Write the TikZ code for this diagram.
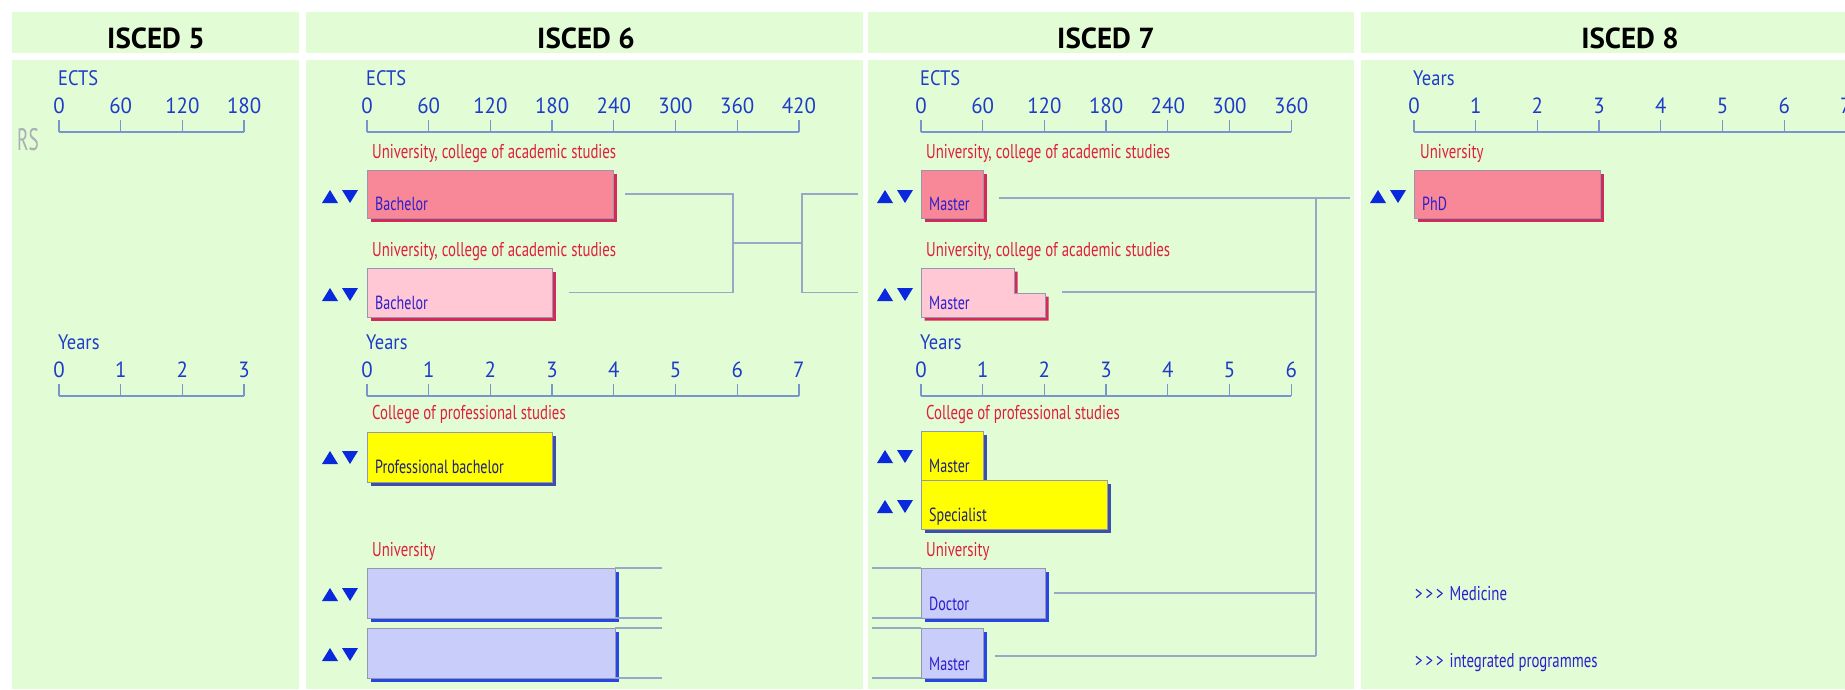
\documentclass[tikz,border=0pt]{standalone}
\usepackage{fontspec}
\setmainfont{PT Sans}
\newfontfamily\condf[FakeStretch=0.74]{PT Sans}
\newfontfamily\numf[FakeStretch=0.88]{PT Sans}
\newfontfamily\digf[FakeStretch=0.95]{PT Sans}
\newfontfamily\rsf[FakeStretch=0.62]{PT Sans}
\usetikzlibrary{calc,shadows}
\definecolor{panel}{RGB}{226,252,214}
\definecolor{axisc}{RGB}{120,150,205}
\definecolor{axtext}{RGB}{30,60,200}
\definecolor{redl}{RGB}{225,30,60}
\definecolor{boxt}{RGB}{45,30,205}
\definecolor{boxty}{RGB}{30,30,130}
\definecolor{pinkD}{RGB}{248,135,152}
\definecolor{pinkL}{RGB}{255,200,212}
\definecolor{pinkS}{RGB}{215,40,90}
\definecolor{yell}{RGB}{255,255,0}
\definecolor{yellS}{RGB}{60,80,170}
\definecolor{blueB}{RGB}{200,205,250}
\definecolor{blueS}{RGB}{40,70,230}
\definecolor{edgec}{RGB}{150,150,175}
\definecolor{conn}{RGB}{150,170,200}
\definecolor{tri}{RGB}{10,40,220}
\definecolor{rsg}{RGB}{170,175,180}
\tikzset{
  head/.style={font=\bfseries\fontsize{29}{31}\selectfont, text=black, inner sep=0pt},
  axline/.style={draw=axisc, line width=1.3pt},
  axlab/.style={font=\digf\fontsize{22}{23}\selectfont, text=axtext, inner sep=0pt},
  axtitle/.style={font=\numf\fontsize{21}{22}\selectfont, text=axtext, inner sep=0pt},
  inst/.style={font=\condf\fontsize{20}{21}\selectfont, text=redl, inner sep=0pt, anchor=base west},
  prog/.style={draw=edgec, line width=0.6pt, anchor=north west, inner sep=0pt, outer sep=0pt},
  pshadow/.style={drop shadow={shadow xshift=3.5pt, shadow yshift=-3.5pt, fill=#1, opacity=1}},
  progtext/.style={font=\condf\fontsize{19}{20}\selectfont, text=boxt, inner sep=0pt, anchor=base west},
  note/.style={font=\condf\fontsize{20}{21}\selectfont, text=boxt, inner sep=0pt, anchor=base west},
  connector/.style={draw=conn, line width=1.4pt},
}
\newcommand\myaxis[6]{%
  \draw[axline] (#2,#3) -- ({#2+#4*61.7},#3);
  \foreach \lab [count=\i from 0] in {#5} {
    \draw[axline] ({#2+\i*61.7},#3) -- ++(0,-12);
    \node[axlab, anchor=base] (#1-\i) at ({#2+\i*61.7},#3-19) {\lab};
  }
  \node[axtitle, anchor=base west] (#1-t) at (#2-1,#3-47) {#6};
}
\newcommand\updown[2]{%
  \fill[tri] (#1,#2+6) -- (#1+16,#2+6) -- (#1+8,#2-7) -- cycle;
  \fill[tri] (#1+20,#2-7) -- (#1+36,#2-7) -- (#1+28,#2+6) -- cycle;
}
\newcommand\chev{>\kern3pt>\kern3pt>\hspace{6pt}}
\begin{document}
\begin{tikzpicture}[x=1pt,y=-1pt]
\useasboundingbox (0,0) rectangle (1845,689);
\fill[white] (0,0) rectangle (1845,689);
% panels
\fill[panel] (12,12) rectangle (299,53);
\fill[panel] (12,60) rectangle (299,689);
\fill[panel] (306,12) rectangle (863,53);
\fill[panel] (306,60) rectangle (863,689);
\fill[panel] (868,12) rectangle (1354,53);
\fill[panel] (868,60) rectangle (1354,689);
\fill[panel] (1361,12) rectangle (1845,53);
\fill[panel] (1361,60) rectangle (1845,689);
% headers
\node[head] (h5) at (156,38) {ISCED 5};
\node[head] (h6) at (586,38) {ISCED 6};
\node[head] (h7) at (1106,38) {ISCED 7};
\node[head] (h8) at (1630,38) {ISCED 8};
\node[anchor=base west, font=\rsf\fontsize{31}{32}\selectfont, text=rsg, inner sep=0pt] (rs) at (17,150) {RS};
% axes
\myaxis{a5e}{59}{132}{3}{0,60,120,180}{ECTS}
\myaxis{a5y}{59}{396}{3}{0,1,2,3}{Years}
\myaxis{a6e}{367}{132}{7}{0,60,120,180,240,300,360,420}{ECTS}
\myaxis{a6y}{367}{396}{7}{0,1,2,3,4,5,6,7}{Years}
\myaxis{a7e}{921}{132}{6}{0,60,120,180,240,300,360}{ECTS}
\myaxis{a7y}{921}{396}{6}{0,1,2,3,4,5,6}{Years}
\myaxis{a8y}{1414}{132}{7}{0,1,2,3,4,5,6,7}{Years}
% institution labels
\node[inst] (i6a) at (372,158) {University, college of academic studies};
\node[inst] (i6b) at (372,256) {University, college of academic studies};
\node[inst] (i6c) at (372,419) {College of professional studies};
\node[inst] (i6d) at (372,556) {University};
\node[inst] (i7a) at (926,158) {University, college of academic studies};
\node[inst] (i7b) at (926,256) {University, college of academic studies};
\node[inst] (i7c) at (926,419) {College of professional studies};
\node[inst] (i7d) at (926,556) {University};
\node[inst] (i8a) at (1420,158) {University};
% boxes ISCED 6
\node[prog, fill=pinkD, pshadow=pinkS, minimum width=246pt, minimum height=48pt] (b6a) at (367,170) {};
\node[prog, fill=pinkL, pshadow=pinkS, minimum width=185pt, minimum height=49pt] (b6b) at (367,268) {};
\node[prog, fill=yell, pshadow=yellS, minimum width=185pt, minimum height=50pt] (b6c) at (367,432) {};
\node[prog, fill=blueB, pshadow=blueS, minimum width=248pt, minimum height=50pt] (b6d) at (367,568) {};
\node[prog, fill=blueB, pshadow=blueS, minimum width=248pt, minimum height=50pt] (b6e) at (367,628) {};
% boxes ISCED 7
\node[prog, fill=pinkD, pshadow=pinkS, minimum width=62pt, minimum height=48pt] (b7a) at (921,170) {};
\path[draw=edgec, line width=0.6pt, fill=pinkL, pshadow=pinkS] (921,268) -- (1014,268) -- (1014,293) -- (1045,293) -- (1045,317) -- (921,317) -- cycle;
\coordinate (b7bW) at (921,292.5);
\coordinate (b7bE) at (1045,292);
\coordinate (b7bSW) at (921,317);
\node[prog, fill=yell, pshadow=yellS, minimum width=62pt, minimum height=49pt] (b7c) at (921,431) {};
\node[prog, fill=yell, pshadow=yellS, minimum width=186pt, minimum height=49pt] (b7d) at (921,480) {};
\node[prog, fill=blueB, pshadow=blueS, minimum width=124pt, minimum height=50pt] (b7e) at (921,568) {};
\node[prog, fill=blueB, pshadow=blueS, minimum width=62pt, minimum height=50pt] (b7f) at (921,628) {};
% box ISCED 8
\node[prog, fill=pinkD, pshadow=pinkS, minimum width=186pt, minimum height=48pt] (b8a) at (1414,170) {};
% programme names
\node[progtext] (t6a) at ([xshift=8pt,yshift=8pt]b6a.south west) {Bachelor};
\node[progtext] (t6b) at ([xshift=8pt,yshift=8pt]b6b.south west) {Bachelor};
\node[progtext, text=boxty] (t6c) at ([xshift=8pt,yshift=9pt]b6c.south west) {Professional bachelor};
\node[progtext] (t7a) at ([xshift=8pt,yshift=8pt]b7a.south west) {Master};
\node[progtext] (t7b) at ([xshift=8pt,yshift=8pt]b7bSW) {Master};
\node[progtext, text=boxty] (t7c) at ([xshift=8pt,yshift=8pt]b7c.south west) {Master};
\node[progtext, text=boxty] (t7d) at ([xshift=8pt,yshift=8pt]b7d.south west) {Specialist};
\node[progtext] (t7e) at ([xshift=8pt,yshift=8pt]b7e.south west) {Doctor};
\node[progtext] (t7f) at ([xshift=8pt,yshift=8pt]b7f.south west) {Master};
\node[progtext] (t8a) at ([xshift=8pt,yshift=8pt]b8a.south west) {PhD};
\node[note] (med) at (1415,600) {\chev Medicine};
\node[note] (integ) at (1415,667) {\chev integrated programmes};
% up/down markers
\updown{322}{197}
\updown{322}{295}
\updown{322}{458}
\updown{322}{595}
\updown{322}{655}
\updown{877}{197}
\updown{877}{295}
\updown{877}{457}
\updown{877}{507}
\updown{1370}{197}
% connectors ISCED 6 -> ISCED 7
\coordinate (ja) at (733,0);
\coordinate (jd) at (802,0);
\coordinate (jm) at (0,243);
\draw[connector] ([xshift=12pt]b6a.east) -- (ja |- b6a.east) -- (ja |- b6b.east) -- ([xshift=17pt]b6b.east);
\draw[connector] (ja |- jm) -- (jd |- jm);
\draw[connector] ([xshift=-63pt]b7a.west) -- (jd |- b7a.west) -- (jd |- b7bW) -- ([xshift=-63pt]b7bW);
% connectors ISCED 7 -> ISCED 8
\coordinate (vtop) at (1316,198);
\coordinate (vbot) at (1316,656);
\coordinate (m7a) at ([xshift=16pt,yshift=-4pt]b7a.east);
\coordinate (p8a) at ([xshift=-64pt,yshift=-4pt]b8a.west);
\draw[connector] (m7a) -- (p8a);
\draw[connector] (vtop) -- (vbot);
\draw[connector] ([xshift=17pt]b7bE) -- (vtop |- b7bE);
\draw[connector] ([xshift=9pt]b7e.east) -- (vtop |- b7e.east);
\coordinate (m7f) at ([xshift=12pt]b7f.east);
\draw[connector] (m7f |- vbot) -- (vbot);
% integrated programme edges
\draw[connector] (b6d.north east) -- ++(47,0);
\draw[connector] (b6d.south east) -- ++(47,0);
\draw[connector] (b6e.north east) -- ++(47,0);
\draw[connector] (b6e.south east) -- ++(47,0);
\draw[connector] (b7e.north west) -- ++(-49,0);
\draw[connector] (b7e.south west) -- ++(-49,0);
\draw[connector] (b7f.north west) -- ++(-49,0);
\draw[connector] (b7f.south west) -- ++(-49,0);
\end{tikzpicture}
\end{document}
